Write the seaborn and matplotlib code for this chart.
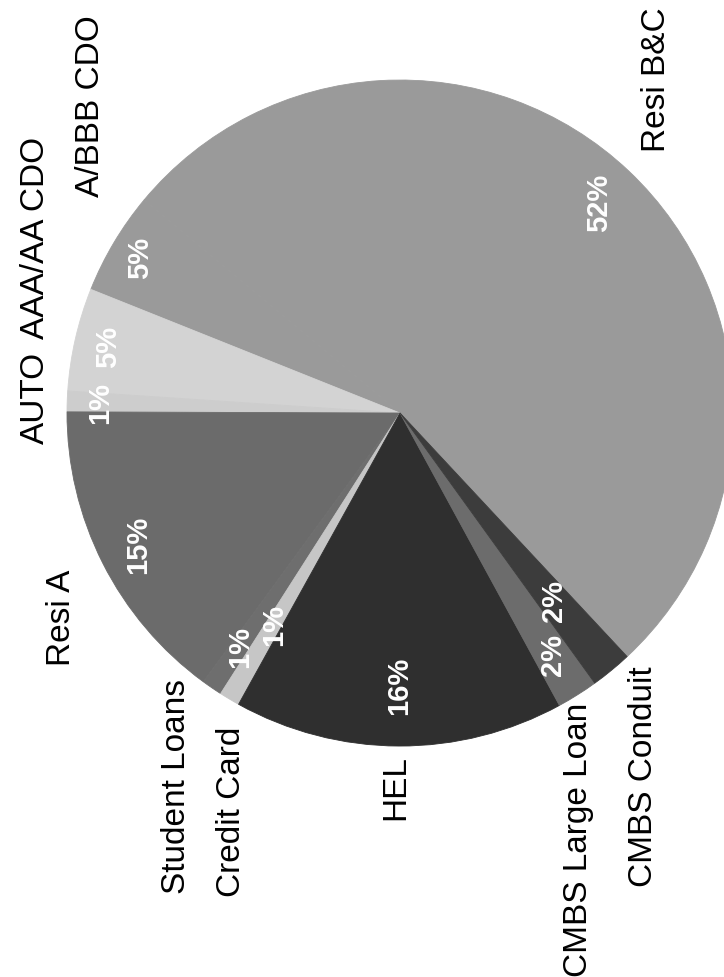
import numpy as np
import matplotlib
matplotlib.use('Agg')
import matplotlib.pyplot as plt
import seaborn as sns

# slices, counter-clockwise from the Resi B&C / CMBS Conduit edge
categories = ['Resi B&C', 'A/BBB CDO', 'AAA/AA CDO', 'AUTO', 'Resi A',
              'Student Loans', 'Credit Card', 'HEL', 'CMBS Large Loan', 'CMBS Conduit']
shares = [52, 5, 5, 1, 15, 1, 1, 16, 2, 2]

shades = ['#9a9a9a', '#9a9a9a', '#d3d3d3', '#cdcdcd', '#6b6b6b',
          '#6e6e6e', '#c6c6c6', '#2f2f2f', '#6c6c6c', '#3c3c3c']

# radial position of the % text (fraction of radius)
pct_dist = [0.87, 0.91, 0.90, 0.90, 0.88, 0.85, 0.74, 0.82, 0.86, 0.73]

# category label centres, pie units (centre 0,0 / radius 1)
label_xy = {
    'Resi B&C': (0.769, 1.0),
    'A/BBB CDO': (-0.928, 0.922),
    'AAA/AA CDO': (-1.096, 0.526),
    'AUTO': (-1.096, 0.045),
    'Resi A': (-1.018, -0.616),
    'Student Loans': (-0.670, -1.123),
    'Credit Card': (-0.505, -1.198),
    'HEL': (-0.012, -1.126),
    'CMBS Large Loan': (0.535, -1.282),
    'CMBS Conduit': (0.730, -1.093),
}

sns.set_theme(style='white')
plt.rcParams['font.family'] = ['Liberation Sans', 'DejaVu Sans']

fig = plt.figure(figsize=(7.24, 9.77), dpi=100)
ax = fig.add_axes([0.0925, 0.2364, 0.92, 0.6817])

wedges, texts, autotexts = ax.pie(shares, colors=shades, startangle=313,
                                  counterclock=True, autopct='%.0f%%',
                                  textprops=dict(color='white', fontsize=21,
                                                 fontweight='bold'))

# hide antialias seams between wedges
for w, c in zip(wedges, shades):
    w.set_edgecolor(c)
    w.set_linewidth(0.6)

for w, t, d in zip(wedges, autotexts, pct_dist):
    mid = np.deg2rad((w.theta1 + w.theta2) / 2)
    t.set_position((d * np.cos(mid), d * np.sin(mid)))
    t.set_rotation(90)
    t.set_ha('center')
    t.set_va('center')

for name in categories:
    x, y = label_xy[name]
    ax.text(x, y, name, rotation=90, ha='center', va='center',
            fontsize=24, color='black', clip_on=False)

ax.set_xlim(-1, 1)
ax.set_ylim(-1, 1)
ax.set_aspect('equal')
ax.axis('off')

fig.savefig('out.png', dpi=100)
